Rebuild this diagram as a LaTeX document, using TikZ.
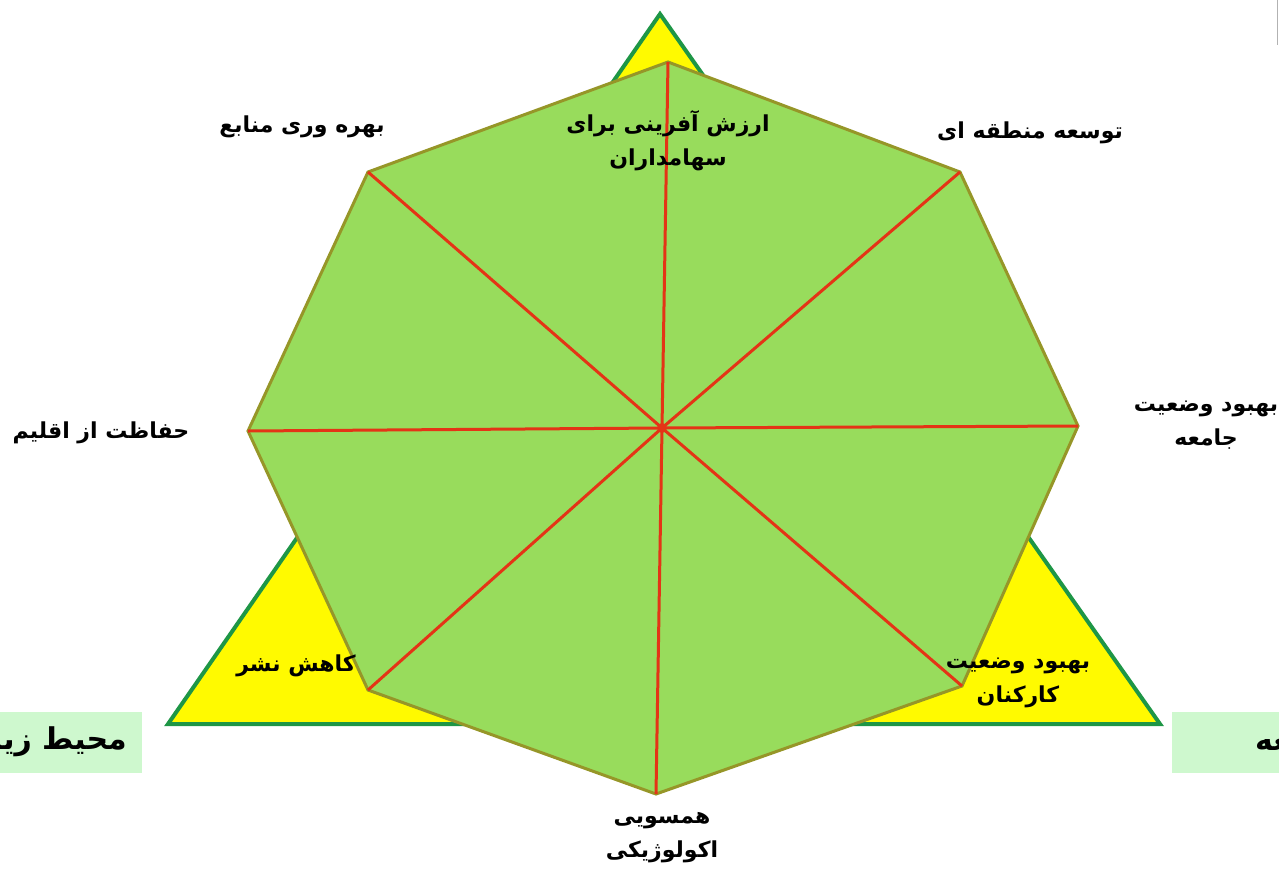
\documentclass[tikz,border=0pt]{standalone}
\usepackage{fontspec}
\newfontfamily\arabicfont[Script=Arabic]{DejaVu Sans}
\TeXXeTstate=1
\definecolor{triyel}{RGB}{255,250,0}
\definecolor{triedge}{RGB}{30,150,70}
\definecolor{octfill}{RGB}{152,220,92}
\definecolor{octedge}{RGB}{150,150,40}
\definecolor{spoke}{RGB}{228,52,22}
\definecolor{boxgreen}{RGB}{206,248,206}
\tikzset{
  lbl/.style={font=\arabicfont\bfseries\fontsize{22}{34}\selectfont, align=center, inner sep=0pt},
  boxlbl/.style={font=\arabicfont\bfseries\fontsize{30}{34}\selectfont, inner sep=0pt},
  spokeline/.style={draw=spoke, line width=3pt},
}
\begin{document}
\begin{tikzpicture}[x=1pt,y=-1pt]
\useasboundingbox (0,0) rectangle (1279,873);
% triangle
\coordinate (tA) at (660,14);
\coordinate (tL) at (168,724);
\coordinate (tR) at (1160,724);
\draw[fill=triyel, draw=triedge, line width=4pt, line join=miter] (tA) -- (tL) -- (tR) -- cycle;
% octagon
\coordinate (c) at (662,428);
\coordinate (v1) at (668,62);
\coordinate (v2) at (960,172);
\coordinate (v3) at (1078,426);
\coordinate (v4) at (962,686);
\coordinate (v5) at (656,794);
\coordinate (v6) at (368,690);
\coordinate (v7) at (248,431);
\coordinate (v8) at (368,172);
\draw[fill=octfill, draw=octedge, line width=3pt] (v1) -- (v2) -- (v3) -- (v4) -- (v5) -- (v6) -- (v7) -- (v8) -- cycle;
\foreach \v in {v1,v2,v3,v4,v5,v6,v7,v8} { \draw[spokeline] (c) -- (\v); }
\fill[spoke] (c) circle (5);
% bottom boxes (cut by the picture edge, as in the reference)
\begin{scope}
\clip (0,712) rectangle (142,773);
\node[fill=boxgreen, minimum width=142pt, minimum height=61pt, anchor=north west, inner sep=0pt] (boxL) at (0,712) {};
\node[boxlbl, anchor=east] (boxLt) at (127,742) {\beginR محیط زیست\endR};
\end{scope}
\begin{scope}
\clip (1172,712) rectangle (1279,773);
\node[fill=boxgreen, minimum width=107pt, minimum height=61pt, anchor=north west, inner sep=0pt] (boxR) at (1172,712) {};
\node[boxlbl, anchor=west] (boxRt) at (1255,742) {\beginR جامعه\endR};
\end{scope}
\draw[gray!60, line width=1pt] (1277,0) -- (1277,45);
% labels
\node[lbl] (l1) at (668,141) {\beginR ارزش آفرینی برای\endR\\\beginR سهامداران\endR};
\node[lbl] (l2) at (1030,133) {\beginR توسعه منطقه ای\endR};
\node[lbl] (l3) at (1206,425) {\beginR بهبود وضعیت\endR\\\beginR جامعه\endR};
\node[lbl] (l4) at (1018,683) {\beginR بهبود وضعیت\endR\\\beginR کارکنان\endR};
\node[lbl] (l5) at (662,838) {\beginR همسویی\endR\\\beginR اکولوژیکی\endR};
\node[lbl] (l6) at (296,666) {\beginR کاهش نشر\endR};
\node[lbl] (l7) at (101,433) {\beginR حفاظت از اقلیم\endR};
\node[lbl] (l8) at (302,127) {\beginR بهره وری منابع\endR};
\end{tikzpicture}
\end{document}
